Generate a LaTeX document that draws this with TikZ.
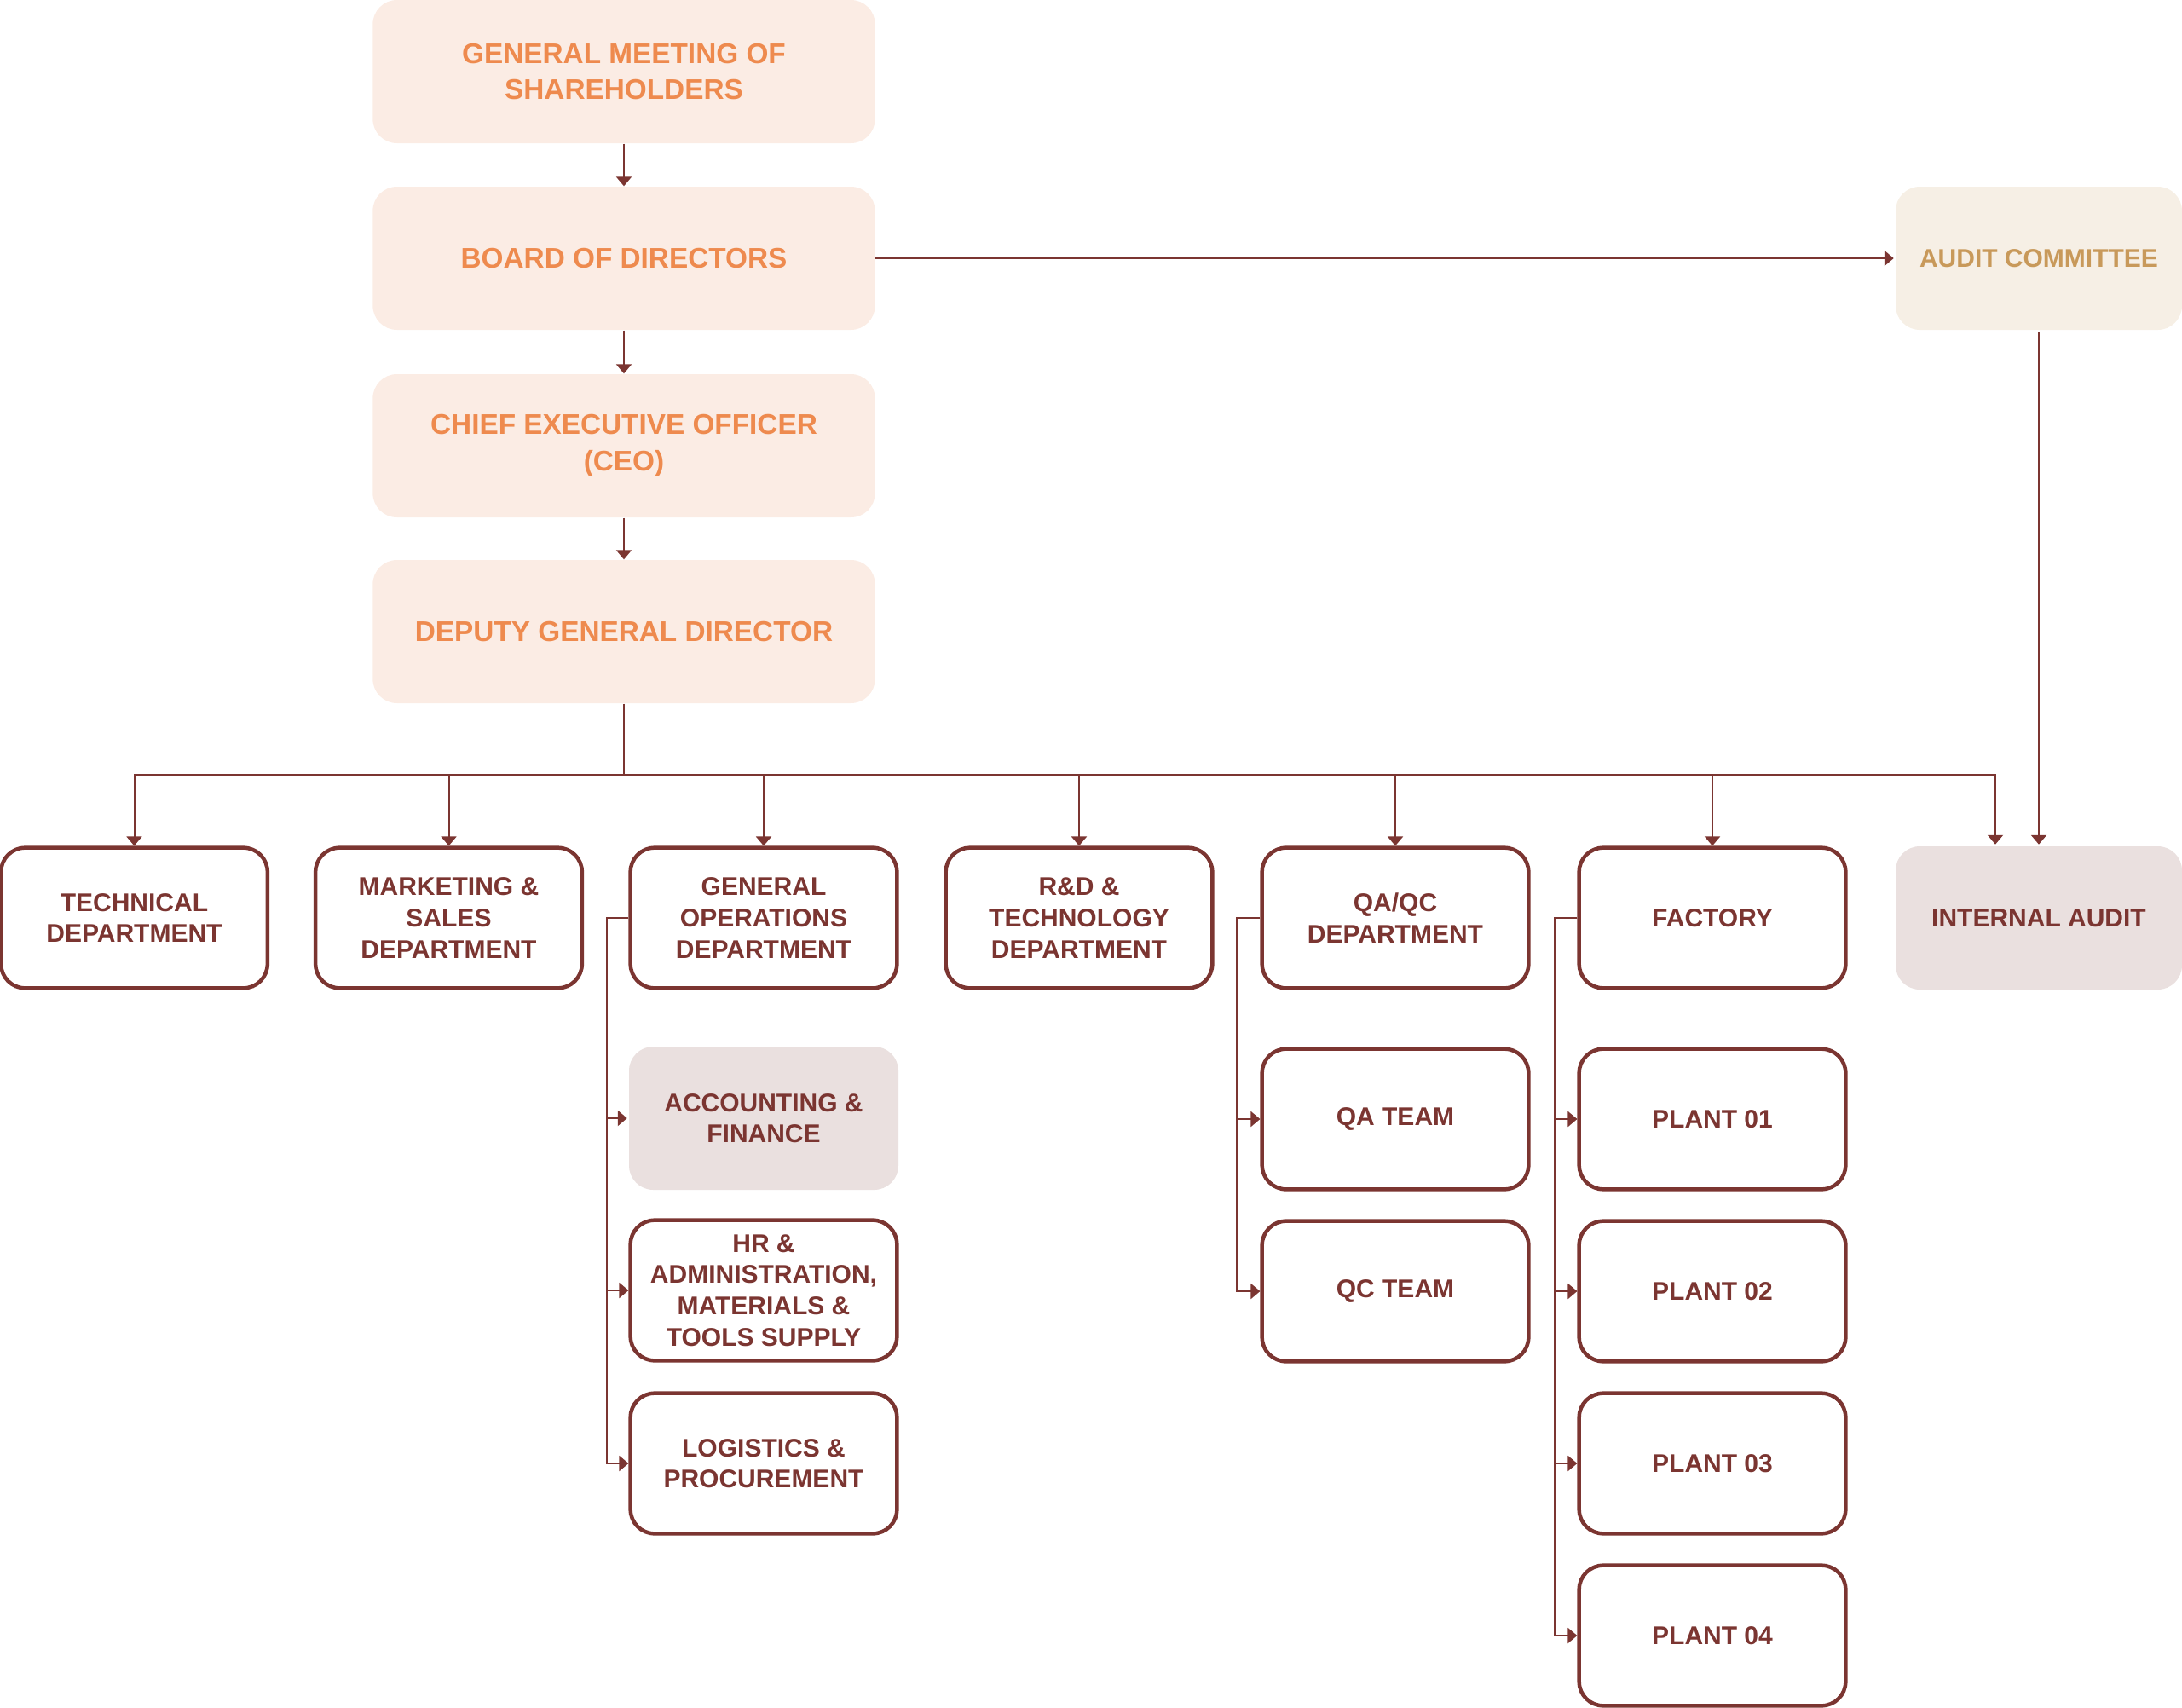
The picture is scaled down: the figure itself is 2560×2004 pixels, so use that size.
\documentclass[tikz,border=0pt]{standalone}
\usepackage{fontspec}
\setmainfont{Liberation Sans}
\usetikzlibrary{arrows.meta}
\definecolor{maroon}{RGB}{123,53,49}
\definecolor{peach}{RGB}{251,236,228}
\definecolor{orangetxt}{RGB}{238,138,78}
\definecolor{cream}{RGB}{246,239,229}
\definecolor{goldtxt}{RGB}{200,153,90}
\definecolor{mauve}{RGB}{234,224,223}
\begin{document}
\begin{tikzpicture}[x=0.3pt,y=-0.3pt,
  topbox/.style={rectangle,rounded corners=8.5pt,fill=peach,text=orangetxt,
    minimum width=176.8pt,minimum height=50.4pt,align=center,inner sep=0pt,
    font=\fontsize{10}{12.75}\selectfont\bfseries},
  dept/.style={rectangle,rounded corners=8.5pt,draw=maroon,line width=1.35pt,
    fill=white,text=maroon,minimum width=93.8pt,minimum height=49.4pt,
    align=center,inner sep=0pt,font=\fontsize{9}{11}\selectfont\bfseries},
  softbox/.style={dept,draw=none,fill=mauve,minimum width=94.8pt,minimum height=50.4pt},
  auditbox/.style={softbox,fill=cream,text=goldtxt,minimum width=100.8pt},
  conn/.style={draw=maroon,line width=0.6pt},
  arr/.style={conn,-{Triangle[length=3.3pt,width=5.4pt]}}
]
\useasboundingbox (0,0) rectangle (2560,2004);

% top column
\node[topbox] (gms) at (732,84) {GENERAL MEETING OF\\SHAREHOLDERS};
\node[topbox] (board) at (732,303) {BOARD OF DIRECTORS};
\node[topbox] (ceo) at (732,523) {CHIEF EXECUTIVE OFFICER\\(CEO)};
\node[topbox] (dgd) at (732,741) {DEPUTY GENERAL DIRECTOR};

% audit
\node[auditbox,minimum width=100.8pt] (audit) at (2392,303) {AUDIT COMMITTEE};
\node[softbox,minimum width=100.8pt] (ia) at (2392,1077) {INTERNAL AUDIT};

% departments
\node[dept] (tech) at (157.5,1077) {TECHNICAL\\DEPARTMENT};
\node[dept] (mkt) at (526.5,1077) {MARKETING \&\\SALES\\DEPARTMENT};
\node[dept] (gen) at (896,1077) {GENERAL\\OPERATIONS\\DEPARTMENT};
\node[dept] (rd) at (1266,1077) {R\&D \&\\TECHNOLOGY\\DEPARTMENT};
\node[dept] (qa) at (1637,1077) {QA/QC\\DEPARTMENT};
\node[dept] (fac) at (2009,1077) {FACTORY};

% general operations children
\node[softbox] (acc) at (896,1312) {ACCOUNTING \&\\FINANCE};
\node[dept] (hr) at (896,1514) {HR \&\\ADMINISTRATION,\\MATERIALS \&\\TOOLS SUPPLY};
\node[dept] (log) at (896,1717) {LOGISTICS \&\\PROCUREMENT};

% QA children
\node[dept] (qat) at (1637,1313) {QA TEAM};
\node[dept] (qct) at (1637,1515) {QC TEAM};

% plants
\node[dept] (p1) at (2009,1313) {PLANT 01};
\node[dept] (p2) at (2009,1515) {PLANT 02};
\node[dept] (p3) at (2009,1717) {PLANT 03};
\node[dept] (p4) at (2009,1919) {PLANT 04};

% vertical chain
\draw[arr] (gms) -- (board);
\draw[arr] (board) -- (ceo);
\draw[arr] (ceo) -- (dgd);
\draw[arr] (board.east) -- (audit.west);
\draw[arr] (audit.south) -- (ia.north);

% bus
\coordinate (bus) at (732,909);
\coordinate (busR) at (2341,909);
\draw[conn] (dgd.south) -- (bus);
\foreach \n in {tech,mkt,gen,rd,qa,fac}
  \draw[arr] (bus) -| (\n.north);
\draw[arr] (bus) -- (busR) -- (busR |- ia.north);

% side branches
\coordinate (gx) at (712,1077);
\foreach \n in {acc,hr,log}
  \draw[arr] (gen.west) -- (gx) |- (\n.west);
\coordinate (qx) at (1451,1077);
\foreach \n in {qat,qct}
  \draw[arr] (qa.west) -- (qx) |- (\n.west);
\coordinate (fx) at (1824,1077);
\foreach \n in {p1,p2,p3,p4}
  \draw[arr] (fac.west) -- (fx) |- (\n.west);
\end{tikzpicture}
\end{document}
